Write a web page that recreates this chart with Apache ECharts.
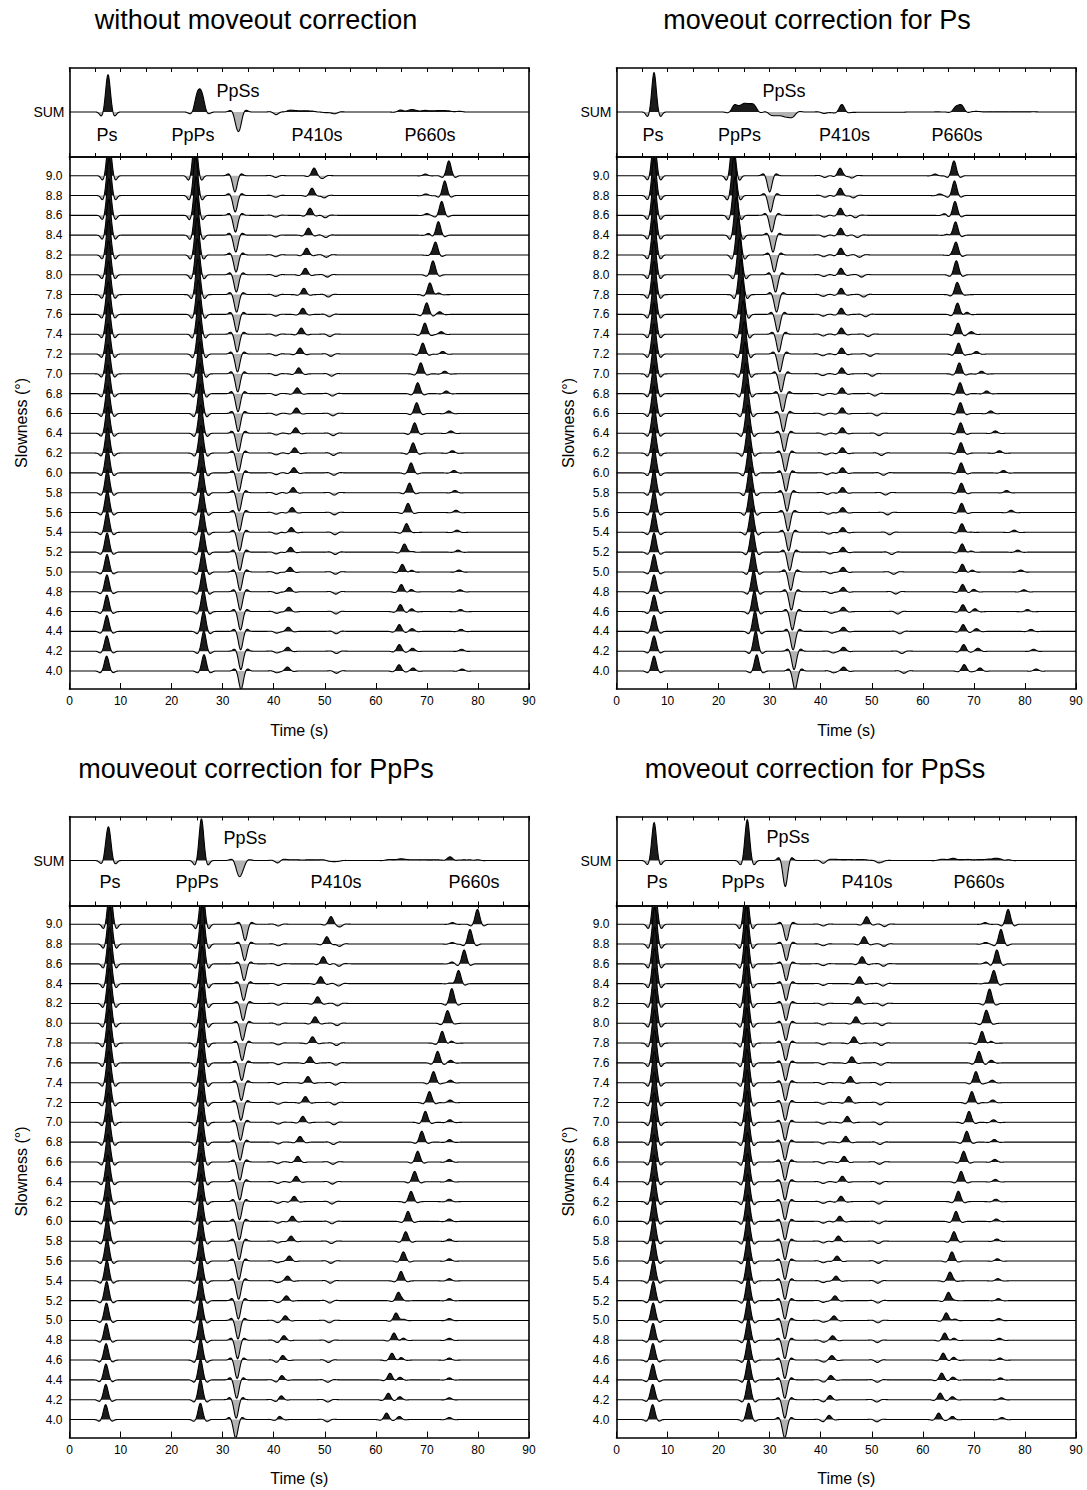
<!DOCTYPE html>
<html><head><meta charset="utf-8">
<script src="https://cdn.jsdelivr.net/npm/echarts@6/dist/echarts.min.js"></script>
<style>html,body{margin:0;padding:0;background:#fff}#c{width:1087px;height:1490px}</style>
</head><body><div id="c"></div>
<script>
// ---------------- DATA ----------------
const slowness = [9.0,8.8,8.6,8.4,8.2,8.0,7.8,7.6,7.4,7.2,7.0,6.8,6.6,6.4,6.2,6.0,5.8,5.6,5.4,5.2,5.0,4.8,4.6,4.4,4.2,4.0];
const timeTicks = [0,10,20,30,40,50,60,70,80,90];
const panelTitles = ['without moveout correction','moveout correction for Ps','mouveout correction for PpPs','moveout correction for PpSs'];
const phaseNames = ['Ps','PpPs','PpSs','P410s','P660s'];

// amplitudes (in units of trace spacing), one value per slowness
const ampPs    = [1.9,1.87,1.84,1.8,1.76,1.72,1.68,1.63,1.58,1.53,1.48,1.43,1.38,1.33,1.28,1.22,1.16,1.1,1.04,0.97,0.88,0.85,0.83,0.8,0.77,0.75];
const ampPpPs  = [2.0,1.97,1.94,1.9,1.86,1.82,1.78,1.73,1.68,1.63,1.58,1.53,1.48,1.43,1.38,1.33,1.28,1.23,1.18,1.14,1.1,1.07,1.05,1.03,1.01,0.82];
const ampPpSs  = [-0.82,-0.83,-0.84,-0.85,-0.86,-0.87,-0.88,-0.89,-0.9,-0.9,-0.91,-0.91,-0.92,-0.92,-0.92,-0.93,-0.93,-0.93,-0.93,-0.93,-0.93,-0.93,-0.93,-0.93,-0.93,-0.93];
const ampP410s = [0.38,0.37,0.36,0.35,0.34,0.33,0.32,0.31,0.31,0.3,0.3,0.29,0.28,0.28,0.27,0.26,0.26,0.25,0.24,0.24,0.23,0.22,0.22,0.21,0.2,0.2];
const ampP660s = [0.75,0.73,0.7,0.68,0.65,0.62,0.6,0.58,0.56,0.55,0.55,0.55,0.54,0.53,0.52,0.5,0.48,0.46,0.44,0.42,0.39,0.37,0.35,0.34,0.33,0.32];
const ampP660b = [0,0,0,0,0,0,0,0,0,0,0,0,0,0,0,0,0,0,0.05,0.08,0.1,0.12,0.14,0.14,0.15,0.15];
const ampBump  = [0.08,0.08,0.09,0.1,0.1,0.11,0.12,0.13,0.13,0.13,0.13,0.13,0.13,0.12,0.12,0.12,0.11,0.11,0.11,0.1,0.1,0.1,0.1,0.1,0.1,0.1];
const ampDip   = [-0.12,-0.12,-0.12,-0.12,-0.12,-0.12,-0.12,-0.12,-0.12,-0.12,-0.12,-0.12,-0.12,-0.12,-0.12,-0.12,-0.12,-0.12,-0.12,-0.12,-0.12,-0.12,-0.12,-0.12,-0.12,-0.12];
const ampDip2  = [-0.09,-0.09,-0.09,-0.09,-0.09,-0.09,-0.09,-0.09,-0.09,-0.09,-0.09,-0.09,-0.09,-0.09,-0.09,-0.09,-0.09,-0.09,-0.09,-0.09,-0.09,-0.09,-0.09,-0.09,-0.09,-0.09];

// Panel 1: without moveout correction (arrival times, s)
const t1Ps    = [7.75,7.73,7.71,7.69,7.67,7.65,7.63,7.61,7.59,7.57,7.55,7.53,7.5,7.48,7.46,7.44,7.42,7.4,7.38,7.36,7.35,7.33,7.32,7.31,7.3,7.28];
const t1PpPs  = [24.6,24.7,24.79,24.88,24.97,25.06,25.15,25.24,25.32,25.4,25.48,25.56,25.63,25.7,25.77,25.84,25.9,25.96,26.02,26.08,26.13,26.18,26.23,26.27,26.31,26.35];
const t1PpSs  = [32.4,32.46,32.51,32.57,32.62,32.68,32.73,32.79,32.84,32.9,32.95,33.0,33.05,33.1,33.14,33.19,33.23,33.28,33.32,33.36,33.4,33.44,33.48,33.52,33.56,33.6];
const t1P410s = [47.9,47.5,47.1,46.8,46.45,46.2,45.9,45.7,45.4,45.15,44.9,44.6,44.45,44.3,44.1,43.95,43.8,43.6,43.45,43.3,43.2,43.05,42.95,42.85,42.75,42.7];
const t1P660s = [74.3,73.5,72.9,72.25,71.7,71.15,70.6,69.96,69.6,69.2,68.8,68.2,68.0,67.6,67.3,66.9,66.6,66.3,66.0,65.6,65.2,65.0,64.8,64.6,64.6,64.55];
const t1P660b = [null,null,null,null,null,null,null,null,null,null,null,null,null,null,null,null,null,null,67.0,66.9,66.9,66.9,67.0,67.1,67.2,67.3];
const t1Bump  = [69.7,69.8,70.0,70.4,70.8,71.5,72.1,72.5,72.8,73.1,73.5,73.8,74.3,74.7,75.0,75.3,75.5,75.7,75.9,76.1,76.3,76.5,76.6,76.7,76.8,76.9];
const t1Dip   = [49.6,49.9,50.1,50.2,50.3,50.5,50.7,50.9,51.0,51.2,51.35,51.5,51.6,51.65,51.7,51.8,51.85,51.9,52.0,52.05,52.1,52.15,52.2,52.25,52.3,52.3];
const t1Dip2  = [40.4,40.4,40.4,40.4,40.4,40.4,40.4,40.4,40.4,40.4,40.4,40.4,40.5,40.5,40.5,40.5,40.5,40.5,40.5,40.5,40.6,40.6,40.6,40.6,40.6,40.6];

// Panel 2: moveout correction for Ps
const t2Ps    = [7.36,7.36,7.35,7.35,7.35,7.35,7.35,7.35,7.35,7.35,7.35,7.35,7.35,7.35,7.35,7.35,7.35,7.35,7.35,7.35,7.35,7.35,7.35,7.35,7.35,7.35];
const t2PpPs  = [22.82,23.0,23.2,23.5,23.85,24.1,24.35,24.6,24.8,25.0,25.15,25.3,25.5,25.69,25.82,26.02,26.15,26.28,26.48,26.61,26.74,26.87,27.0,27.13,27.26,27.46];
const t2PpSs  = [30.0,30.15,30.4,30.65,30.9,31.15,31.35,31.6,31.8,32.0,32.25,32.55,32.68,32.87,33.07,33.2,33.4,33.6,33.72,33.92,34.12,34.25,34.45,34.58,34.78,34.97];
const t2P410s = [43.8,43.83,43.86,43.9,43.93,43.96,44.0,44.03,44.06,44.1,44.13,44.16,44.2,44.22,44.24,44.26,44.28,44.3,44.32,44.35,44.38,44.4,44.42,44.45,44.48,44.5];
const t2P660s = [66.1,66.2,66.3,66.4,66.5,66.6,66.7,66.8,66.9,67.0,67.15,67.29,67.35,67.4,67.45,67.5,67.55,67.6,67.65,67.7,67.75,67.8,67.85,67.9,68.0,68.1];
const t2P660b = [null,null,null,null,null,null,null,null,null,null,null,null,null,null,null,null,null,null,69.0,69.3,69.6,69.95,70.2,70.5,70.8,71.2];
const t2Bump  = [62.4,63.3,64.3,65.0,65.6,66.3,67.5,68.5,69.5,70.5,71.5,72.5,73.3,74.2,75.0,75.8,76.4,77.3,77.9,78.6,79.2,79.8,80.5,81.2,81.7,82.2];
const t2Dip   = [46.1,46.4,46.8,47.2,47.6,48.0,48.4,48.8,49.3,49.7,50.1,50.6,51.0,51.4,51.9,52.3,52.7,53.1,53.5,53.9,54.3,54.7,55.1,55.5,55.9,56.3];
const t2Dip2  = [40.8,40.8,40.7,40.7,40.6,40.6,40.5,40.5,40.5,40.4,40.4,40.4,40.6,40.8,41.0,41.2,41.3,41.5,41.6,41.8,41.9,42.0,42.1,42.2,42.4,42.5];

// Panel 3: moveout correction for PpPs
const t3Ps    = [7.93,7.9,7.87,7.84,7.81,7.78,7.75,7.72,7.69,7.66,7.63,7.6,7.56,7.52,7.48,7.44,7.4,7.36,7.32,7.28,7.24,7.2,7.17,7.14,7.11,7.08];
const t3PpPs  = [26.0,26.0,25.98,25.97,25.96,25.95,25.93,25.92,25.9,25.88,25.85,25.82,25.8,25.78,25.77,25.75,25.74,25.72,25.71,25.7,25.69,25.68,25.67,25.66,25.65,25.63];
const t3PpSs  = [34.4,34.3,34.2,34.1,34.0,33.9,33.82,33.74,33.66,33.58,33.49,33.4,33.37,33.33,33.3,33.26,33.22,33.18,33.14,33.08,33.0,32.92,32.83,32.74,32.65,32.55];
const t3P410s = [51.2,50.4,49.7,49.2,48.6,48.1,47.6,47.1,46.7,46.2,45.7,45.15,44.7,44.4,44.0,43.65,43.4,43.06,42.7,42.5,42.3,42.0,41.76,41.56,41.4,41.04];
const t3P660s = [79.9,78.45,77.3,76.2,74.9,74.0,73.0,72.1,71.3,70.5,69.7,69.0,68.2,67.6,66.9,66.3,65.85,65.4,64.9,64.4,63.96,63.57,63.17,62.78,62.45,62.1];
const t3P660b = [null,null,null,null,null,null,null,null,null,null,null,null,null,null,null,null,null,null,65.3,65.3,65.3,65.3,64.9,64.7,64.7,64.6];
const t3Bump  = [75.0,74.95,74.9,74.85,74.8,74.75,74.7,74.65,74.6,74.55,74.5,74.45,74.4,74.4,74.4,74.4,74.4,74.4,74.4,74.4,74.4,74.4,74.4,74.4,74.4,74.4];
const t3Dip   = [53.0,52.9,52.8,52.7,52.5,52.4,52.3,52.2,52.1,51.9,51.8,51.7,51.6,51.5,51.4,51.4,51.3,51.2,51.1,51.0,50.9,50.8,50.7,50.6,50.6,50.5];
const t3Dip2  = [40.9,40.9,40.9,40.9,40.9,40.9,40.9,40.9,40.9,40.9,40.9,40.9,40.8,40.8,40.8,40.8,40.8,40.7,40.7,40.7,40.7,40.7,40.6,40.6,40.6,40.6];

// Panel 4: moveout correction for PpSs
const t4Ps    = [7.5,7.49,7.48,7.47,7.46,7.45,7.44,7.44,7.43,7.42,7.42,7.41,7.38,7.36,7.33,7.31,7.28,7.26,7.23,7.21,7.18,7.16,7.14,7.12,7.1,7.08];
const t4PpPs  = [25.4,25.42,25.44,25.46,25.48,25.5,25.52,25.54,25.56,25.58,25.6,25.63,25.65,25.67,25.69,25.71,25.73,25.75,25.77,25.79,25.81,25.83,25.85,25.86,25.88,25.89];
const t4PpSs  = [33.3,33.28,33.25,33.22,33.2,33.17,33.14,33.11,33.08,33.05,33.02,33.0,33.0,33.0,33.0,33.0,33.0,32.99,32.99,32.98,32.98,32.97,32.97,32.96,32.96,32.95];
const t4P410s = [49.0,48.5,48.1,47.6,47.3,46.9,46.5,46.1,45.8,45.5,45.2,44.9,44.57,44.24,43.98,43.72,43.45,43.2,43.0,42.8,42.6,42.35,42.2,42.0,41.82,41.63];
const t4P660s = [76.7,75.3,74.5,73.9,73.1,72.4,71.6,71.0,70.4,69.6,69.05,68.6,68.0,67.5,66.96,66.5,66.1,65.7,65.3,65.0,64.6,64.3,64.0,63.7,63.4,63.1];
const t4P660b = [null,null,null,null,null,null,null,null,null,null,null,null,null,null,null,null,null,null,66.1,66.1,66.1,66.0,66.0,65.9,65.8,65.8];
const t4Bump  = [72.2,72.3,72.4,72.6,72.8,73.0,73.2,73.4,73.6,73.7,73.85,74.0,74.1,74.2,74.3,74.4,74.5,74.6,74.7,74.8,74.9,75.0,75.1,75.2,75.4,75.5];
const t4Dip   = [52.5,52.4,52.3,52.2,52.1,52.0,51.9,51.8,51.7,51.7,51.6,51.6,51.5,51.5,51.4,51.4,51.3,51.3,51.2,51.2,51.2,51.1,51.1,51.1,51.0,51.0];
const t4Dip2  = [40.5,40.5,40.5,40.5,40.5,40.5,40.5,40.5,40.5,40.5,40.5,40.5,40.5,40.5,40.5,40.5,40.5,40.5,40.5,40.5,40.5,40.5,40.5,40.5,40.5,40.5];

// ---------------- BUILD ----------------
const amps = [ampPs, ampPpPs, ampPpSs, ampP410s, ampP660s, ampP660b, ampBump, ampDip, ampDip2];
const panelTimes = [
  [t1Ps,t1PpPs,t1PpSs,t1P410s,t1P660s,t1P660b,t1Bump,t1Dip,t1Dip2],
  [t2Ps,t2PpPs,t2PpSs,t2P410s,t2P660s,t2P660b,t2Bump,t2Dip,t2Dip2],
  [t3Ps,t3PpPs,t3PpSs,t3P410s,t3P660s,t3P660b,t3Bump,t3Dip,t3Dip2],
  [t4Ps,t4PpPs,t4PpSs,t4P410s,t4P660s,t4P660b,t4Bump,t4Dip,t4Dip2]
];
const SIG = 0.42, LOBE_DT = 1.25, LOBE_SIG = 0.35, LOBE_K = 0.12;
function wavelet(d){
  const a = Math.exp(-d*d/(2*SIG*SIG));
  const l1 = Math.exp(-(d-LOBE_DT)*(d-LOBE_DT)/(2*LOBE_SIG*LOBE_SIG));
  const l2 = Math.exp(-(d+LOBE_DT)*(d+LOBE_DT)/(2*LOBE_SIG*LOBE_SIG));
  return a - LOBE_K*(l1+l2);
}
const T = [];
for (let k=0;k<=900;k++) T.push(k/10);
function buildTraces(times){
  return slowness.map((s,i)=>{
    const w = new Array(T.length).fill(0);
    for (let ph=0; ph<times.length; ph++){
      const tt = times[ph][i], aa = amps[ph][i];
      if (tt===null || !aa) continue;
      const k0 = Math.max(0, Math.floor((tt-3)*10)), k1 = Math.min(T.length-1, Math.ceil((tt+3)*10));
      for (let k=k0;k<=k1;k++) w[k] += aa*wavelet(T[k]-tt);
    }
    return w;
  });
}
const SUM_GAIN = 1.5;
function stack(traces){
  const out = new Array(T.length).fill(0);
  traces.forEach(w=>{ for (let k=0;k<T.length;k++) out[k]+=w[k]; });
  return out.map(v=>SUM_GAIN*v/traces.length);
}

function makeRender(waves, bases, unit){
  return function(params, api){
    const i = params.dataIndex;
    const cs = params.coordSys;
    const yTop = cs.y, yBot = cs.y + cs.height;
    const base = bases[i], w = waves[i];
    const b = api.coord([0, base])[1];
    const pts = new Array(T.length);
    for (let k=0;k<T.length;k++){
      const p = api.coord([T[k], base + w[k]*unit]);
      p[1] = Math.max(yTop, Math.min(yBot, p[1]));
      pts[k] = p;
    }
    const x0 = pts[0][0], x1 = pts[pts.length-1][0];
    const pos = [[x0,b]], neg = [[x0,b]];
    for (let k=0;k<pts.length;k++){
      pos.push([pts[k][0], Math.min(pts[k][1], b)]);
      neg.push([pts[k][0], Math.max(pts[k][1], b)]);
    }
    pos.push([x1,b]); neg.push([x1,b]);
    return {type:'group', children:[
      {type:'polygon', shape:{points:neg}, style:{fill:'#b2b2b2', stroke:null}, silent:true},
      {type:'polygon', shape:{points:pos}, style:{fill:'#1b1b1b', stroke:null}, silent:true},
      {type:'polyline', shape:{points:pts}, style:{stroke:'#000', lineWidth:1.1, fill:null}, silent:true}
    ]};
  };
}

const FONT = 'Liberation Sans, Arial, Helvetica, sans-serif';
const W = 459.5, SUM_TOP = 68, SUM_H = 89, MAIN_TOP = 157, MAIN_H = 532;
const S_MIN = 3.8183, S_MAX = 9.1888;
const layout = [
  {left:69.5, dy:0, title:[256,20], labels:[[107,135],[193,135],[238,91],[317,135],[430,135]]},
  {left:616.5, dy:0, title:[817,20], labels:[[653,135],[739.5,135],[784,91],[844.5,135],[957,135]]},
  {left:69.5, dy:748.5, title:[256,20], labels:[[110,133],[197,133],[245,89],[336,133],[474,133]]},
  {left:616.5, dy:748.5, title:[815,20], labels:[[657,133],[743,133],[788,88],[867,133],[979,133]]}
];
const lineStyle = {color:'#000', width:1.6};
const grids=[], xAxes=[], yAxes=[], series=[], graphics=[];
layout.forEach((L,p)=>{
  const traces = buildTraces(panelTimes[p]);
  const sum = stack(traces);
  grids.push({left:L.left, top:L.dy+SUM_TOP, width:W, height:SUM_H});
  grids.push({left:L.left, top:L.dy+MAIN_TOP, width:W, height:MAIN_H});
  const gs = 2*p, gm = 2*p+1;
  const xBase = {type:'value', min:0, max:90, splitLine:{show:false}, axisLine:{show:true, onZero:false, lineStyle}};
  xAxes.push(Object.assign({}, xBase, {gridIndex:gs, position:'bottom', interval:5, axisTick:{inside:true, length:4, lineStyle:{color:'#000',width:1}}, axisLabel:{show:false}}));
  xAxes.push(Object.assign({}, xBase, {gridIndex:gs, position:'top', interval:5, axisTick:{inside:true, length:4, lineStyle:{color:'#000',width:1}}, axisLabel:{show:false}}));
  xAxes.push(Object.assign({}, xBase, {gridIndex:gm, position:'bottom', interval:10,
    axisTick:{inside:true, length:6, lineStyle:{color:'#000',width:1}},
    axisLabel:{show:true, margin:6, fontSize:12, color:'#000', fontFamily:FONT, customValues:timeTicks},
    name:'Time (s)', nameLocation:'middle', nameGap:33, nameTextStyle:{fontSize:16, color:'#000', fontFamily:FONT}}));
  xAxes.push(Object.assign({}, xBase, {gridIndex:gm, position:'top', interval:10, axisTick:{inside:true, length:3, lineStyle:{color:'#000',width:1}}, axisLabel:{show:false}}));
  const yBase = {type:'value', splitLine:{show:false}, axisTick:{show:false}, axisLine:{show:true, onZero:false, lineStyle}};
  yAxes.push(Object.assign({}, yBase, {gridIndex:gs, position:'left', min:-2.27, max:2.22,
    axisLabel:{show:true, customValues:[0], formatter:()=>'SUM', margin:5, fontSize:14, color:'#000', fontFamily:FONT}}));
  yAxes.push(Object.assign({}, yBase, {gridIndex:gs, position:'right', min:-2.27, max:2.22, axisLabel:{show:false}}));
  yAxes.push(Object.assign({}, yBase, {gridIndex:gm, position:'left', min:S_MIN, max:S_MAX,
    axisLabel:{show:true, customValues:slowness, formatter:v=>Number(v).toFixed(1), margin:7, fontSize:12, color:'#000', fontFamily:FONT},
    name:'Slowness (°)', nameLocation:'middle', nameGap:40, nameRotate:90, nameTextStyle:{fontSize:16, color:'#000', fontFamily:FONT}}));
  yAxes.push(Object.assign({}, yBase, {gridIndex:gm, position:'right', min:S_MIN, max:S_MAX, axisLabel:{show:false}}));
  series.push({type:'custom', xAxisIndex:4*p, yAxisIndex:4*p, clip:true, animation:false,
    data:[[45,0]], encode:{x:0,y:1}, renderItem:makeRender([sum],[0],1), z:3});
  series.push({type:'custom', xAxisIndex:4*p+2, yAxisIndex:4*p+2, clip:true, animation:false,
    data:slowness.map(s=>[45,s]), encode:{x:0,y:1}, renderItem:makeRender(traces, slowness, 0.2), z:3});
  graphics.push({type:'text', x:L.title[0], y:L.title[1]+L.dy, style:{text:panelTitles[p], x:0, y:0, fill:'#000', font:'27px '+FONT, align:'center', verticalAlign:'middle', textAlign:'center', textVerticalAlign:'middle'}});
  phaseNames.forEach((nm,j)=>{
    graphics.push({type:'text', x:L.labels[j][0], y:L.labels[j][1]+L.dy, z:10, style:{text:nm, x:0, y:0, fill:'#000', font:'18px '+FONT, align:'center', verticalAlign:'middle', textAlign:'center', textVerticalAlign:'middle'}});
  });
});

const chart = echarts.init(document.getElementById('c'), null, {renderer:'svg', width:1087, height:1490});
chart.setOption({
  animation:false,
  backgroundColor:'#fff',
  grid:grids, xAxis:xAxes, yAxis:yAxes, series:series, graphic:graphics
});
</script>
</body></html>
